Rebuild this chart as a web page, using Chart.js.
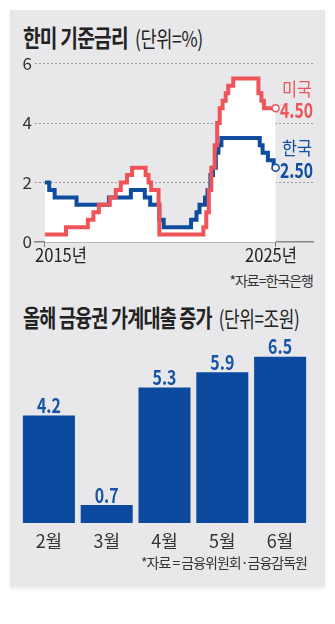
<!DOCTYPE html>
<html>
<head>
<meta charset="utf-8">
<script src="https://cdn.jsdelivr.net/npm/chart.js@4/dist/chart.umd.min.js"></script>
<style>
    body { margin: 0; background: #fff; width: 335px; height: 624px; position: relative; overflow: hidden; font-family: "Noto Sans CJK KR", sans-serif; color: #222; }
    .panel { position: absolute; left: 10px; top: 10px; width: 315px; height: 577px; background: #e8e8eb; box-shadow: 0 2px 3px rgba(0,0,0,0.08); }
    .title { position: absolute; left: 23px; font-size: 24px; line-height: 24px; font-weight: bold; letter-spacing: -1px; white-space: nowrap; transform: scaleX(0.8); transform-origin: 0 0; }
    .title span { font-weight: normal; font-size: 22px; letter-spacing: -0.5px; margin-left: 9px; }
    .src { position: absolute; font-size: 14px; line-height: 16px; letter-spacing: -1px; color: #333; white-space: nowrap; }
    canvas { position: absolute; left: 0; }
</style>
</head>
<body>
<div class="panel"></div>
<div class="title" style="top:25px">한미 기준금리<span>(단위=%)</span></div>
<canvas id="rateCanvas" style="top:50px" width="335" height="218"></canvas>
<div class="src" style="top:272px; right:22px">*자료=한국은행</div>
<div class="title" style="top:305px; transform:scaleX(0.77)">올해 금융권 가계대출 증가<span>(단위=조원)</span></div>
<canvas id="loanCanvas" style="top:330px" width="335" height="223"></canvas>
<div class="src" style="top:554px; right:28px">*자료 = 금융위원회·금융감독원</div>

<script>
// 한국 기준금리 (변경일, 금리)
var krDates = ['2015-01-01', '2015-03-12', '2015-06-11', '2016-06-09', '2017-11-30', '2018-11-30', '2019-07-18', '2019-10-16',
    '2020-03-16', '2020-05-28', '2021-08-26', '2021-11-25', '2022-01-14', '2022-04-14', '2022-05-26', '2022-07-13',
    '2022-08-25', '2022-10-12', '2022-11-24', '2023-01-13', '2024-10-11', '2024-11-28', '2025-02-25', '2025-05-29', '2025-07-01'];
var krRates = [2.00, 1.75, 1.50, 1.25, 1.50, 1.75, 1.50, 1.25,
    0.75, 0.50, 0.75, 1.00, 1.25, 1.50, 1.75, 2.25,
    2.50, 3.00, 3.25, 3.50, 3.25, 3.00, 2.75, 2.50, 2.50];

// 미국 기준금리 상단 (변경일, 금리)
var usDates = ['2015-01-01', '2015-12-17', '2016-12-15', '2017-03-16', '2017-06-15', '2017-12-14', '2018-03-22', '2018-06-14',
    '2018-09-27', '2018-12-20', '2019-08-01', '2019-09-19', '2019-10-31', '2020-03-03', '2020-03-16', '2022-03-17',
    '2022-05-05', '2022-06-16', '2022-07-28', '2022-09-22', '2022-11-03', '2022-12-15', '2023-02-02', '2023-03-23',
    '2023-05-04', '2023-07-27', '2024-09-19', '2024-11-08', '2024-12-19', '2025-07-01'];
var usRates = [0.25, 0.50, 0.75, 1.00, 1.25, 1.50, 1.75, 2.00,
    2.25, 2.50, 2.25, 2.00, 1.75, 1.25, 0.25, 0.50,
    1.00, 1.75, 2.50, 3.25, 4.00, 4.50, 4.75, 5.00,
    5.25, 5.50, 5.00, 4.75, 4.50, 4.50];

var rateTicks = [0, 2, 4, 6];
var yearLabels = ['2015년', '2025년'];

// 가계대출 증가
var months = ['2월', '3월', '4월', '5월', '6월'];
var loanGrowth = [4.2, 0.7, 5.3, 5.9, 6.5];

var numFont = '"Noto Sans CJK KR", sans-serif';
var red = '#ef5459';
var blue = '#0d4c9f';

Chart.defaults.font.family = numFont;
Chart.defaults.color = '#333';

var toYear = function (d) {
    var p = d.split('-');
    return +p[0] + (+p[1] - 1) / 12 + (+p[2] - 1) / 365;
};

var toPoints = function (dates, rates) {
    return dates.map(function (d, i) {
        return { x: toYear(d), y: rates[i] };
    });
};

var lastPointRadius = function (ctx) {
    return ctx.dataIndex === ctx.dataset.data.length - 1 ? 3.5 : 0;
};

// 선 끝 라벨 (미국 4.50 / 한국 2.50)
var endLabelPlugin = {
    id: 'endLabels',
    afterDatasetsDraw: function (chart) {
        var c = chart.ctx;
        var right = chart.chartArea.right;
        c.save();
        chart.data.datasets.forEach(function (ds, i) {
            var pts = chart.getDatasetMeta(i).data;
            var p = pts[pts.length - 1];
            var v = ds.data[ds.data.length - 1].y;
            c.fillStyle = ds.borderColor;
            c.textAlign = 'right';
            c.textBaseline = 'middle';
            c.font = 'bold 21px ' + numFont;
            c.fillText(v.toFixed(2), right, p.y + 2, 33);
            c.font = '18px ' + numFont;
            c.fillText(ds.label, right - 1, p.y - 19, 30);
        });
        c.restore();
    }
};

// x축 연도 라벨
var yearLabelPlugin = {
    id: 'yearLabels',
    afterDraw: function (chart) {
        var c = chart.ctx;
        var area = chart.chartArea;
        c.save();
        c.fillStyle = '#222';
        c.font = '18px ' + numFont;
        c.textBaseline = 'middle';
        c.textAlign = 'left';
        c.fillText(yearLabels[0], area.left, area.bottom + 13, 52);
        c.textAlign = 'right';
        c.fillText(yearLabels[1], area.right - 16, area.bottom + 13, 52);
        c.restore();
    }
};

var rateChart = new Chart(document.getElementById('rateCanvas').getContext('2d'), {
    type: 'line',
    data: {
        datasets: [
            {
                label: '미국',
                data: toPoints(usDates, usRates),
                borderColor: red,
                borderWidth: 4,
                stepped: true,
                fill: 'origin',
                backgroundColor: '#fff',
                pointRadius: lastPointRadius,
                pointBackgroundColor: '#fff',
                pointBorderColor: red,
                pointBorderWidth: 1.5
            },
            {
                label: '한국',
                data: toPoints(krDates, krRates),
                borderColor: blue,
                borderWidth: 4,
                stepped: true,
                fill: 'origin',
                backgroundColor: '#fff',
                pointRadius: lastPointRadius,
                pointBackgroundColor: '#fff',
                pointBorderColor: blue,
                pointBorderWidth: 1.5
            }
        ]
    },
    options: {
        responsive: false,
        animation: false,
        layout: { padding: { top: 13.5, right: 22, left: 0, bottom: 0 } },
        plugins: {
            legend: { display: false },
            tooltip: { enabled: false },
            filler: { drawTime: 'beforeDatasetsDraw' }
        },
        scales: {
            x: {
                type: 'linear',
                min: 2014.55,
                max: 2027.2,
                afterBuildTicks: function (scale) {
                    scale.ticks = [{ value: toYear(usDates[0]) }, { value: toYear(usDates[usDates.length - 1]) }];
                },
                afterFit: function (scale) { scale.height = 26; },
                ticks: { display: false },
                grid: { drawOnChartArea: false, drawTicks: true, tickLength: 5, color: '#777', lineWidth: 1 },
                border: { display: true, color: '#888', width: 1.5 }
            },
            y: {
                min: 0,
                max: 6,
                afterBuildTicks: function (scale) {
                    scale.ticks = rateTicks.map(function (v) { return { value: v }; });
                },
                afterFit: function (scale) { scale.width = 35; },
                ticks: { padding: 3, font: { size: 17 }, color: '#333' },
                grid: {
                    drawTicks: false,
                    color: function (ctx) { return ctx.tick && ctx.tick.value === 0 ? 'rgba(0,0,0,0)' : '#9a9a9a'; },
                    lineWidth: 1
                },
                border: { display: false, dash: [2, 2] }
            }
        }
    },
    plugins: [endLabelPlugin, yearLabelPlugin]
});

// 막대 위 수치
var barValuePlugin = {
    id: 'barValues',
    afterDatasetsDraw: function (chart) {
        var c = chart.ctx;
        var ds = chart.data.datasets[0];
        c.save();
        c.fillStyle = '#1553a6';
        c.font = 'bold 20px ' + numFont;
        c.textAlign = 'center';
        c.textBaseline = 'middle';
        chart.getDatasetMeta(0).data.forEach(function (bar, i) {
            c.fillText(ds.data[i].toFixed(1), bar.x, bar.y - 10, 24);
        });
        c.restore();
    }
};

var loanChart = new Chart(document.getElementById('loanCanvas').getContext('2d'), {
    type: 'bar',
    data: {
        labels: months,
        datasets: [{
            data: loanGrowth,
            backgroundColor: '#0b4a9e',
            barPercentage: 0.9,
            categoryPercentage: 1
        }]
    },
    options: {
        responsive: false,
        animation: false,
        layout: { padding: { top: 14, right: 26, left: 20, bottom: 0 } },
        plugins: {
            legend: { display: false },
            tooltip: { enabled: false }
        },
        scales: {
            x: {
                afterFit: function (scale) { scale.height = 30; },
                grid: { display: false, drawTicks: false },
                border: { display: false },
                ticks: { padding: 7, font: { size: 18, family: numFont }, color: '#333' }
            },
            y: {
                display: false,
                min: 0,
                max: 7
            }
        }
    },
    plugins: [barValuePlugin]
});
</script>
</body>
</html>
